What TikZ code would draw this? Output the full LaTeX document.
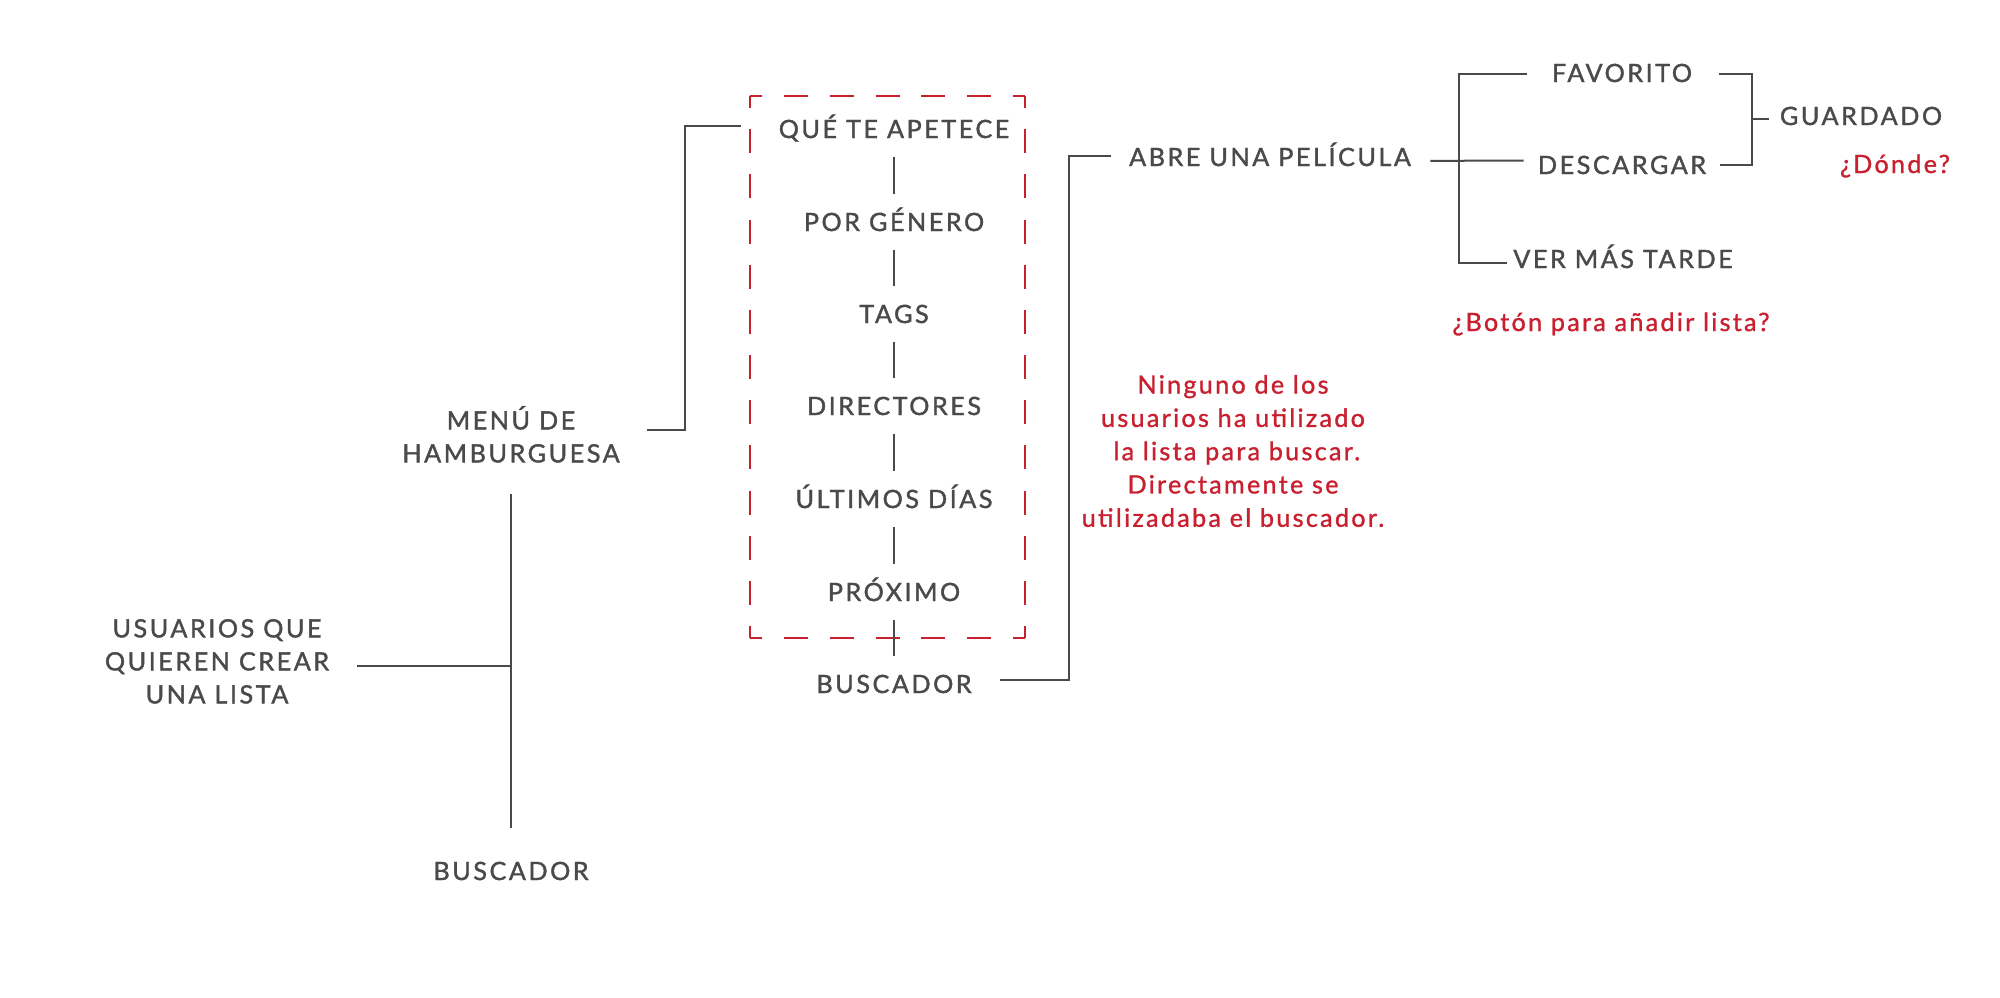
\documentclass[tikz,border=0pt]{standalone}
\usepackage{fontspec}
\setmainfont{Lato}
\usetikzlibrary{calc}
\definecolor{txtgrey}{HTML}{4A4A4A}
\definecolor{notered}{HTML}{C8202F}
\newfontfamily\capsfont{Lato}[LetterSpace=10,FakeBold=1.5]
\newfontfamily\notefont{Lato}[LetterSpace=9,FakeBold=1.2]
\begin{document}
\begin{tikzpicture}[x=0.5pt,y=-0.5pt,
  lbl/.style={text=txtgrey, font=\capsfont\fontsize{12.6}{16.5}\selectfont, inner sep=0pt, align=center},
  note/.style={text=notered, font=\notefont\fontsize{12.6}{16.65}\selectfont, inner sep=0pt, align=center},
  conn/.style={draw=txtgrey, line width=1pt},
  redside/.style={draw=notered, line width=1pt}]
\useasboundingbox (0,0) rectangle (2000,997);

% left part
\node[lbl, anchor=south] (usr) at (217,704) {USUARIOS QUE\\QUIEREN CREAR\\UNA LISTA};
\node[lbl, anchor=south] (menu) at (511,463) {MENÚ DE\\HAMBURGUESA};
\node[lbl, anchor=base] (bus1) at (511,880) {BUSCADOR};

% menu items
\node[lbl, anchor=base] (q1) at (894,138) {QUÉ TE APETECE};
\node[lbl, anchor=base] (q2) at (894,231) {POR GÉNERO};
\node[lbl, anchor=base] (q3) at (894,323) {TAGS};
\node[lbl, anchor=base] (q4) at (894,415) {DIRECTORES};
\node[lbl, anchor=base] (q5) at (894,508) {ÚLTIMOS DÍAS};
\node[lbl, anchor=base] (q6) at (894,601) {PRÓXIMO};
\node[lbl, anchor=base] (bus2) at (894,693) {BUSCADOR};

% right part
\node[lbl, anchor=base] (abre) at (1270,166) {ABRE UNA PELÍCULA};
\node[lbl, anchor=base] (fav) at (1622,82) {FAVORITO};
\node[lbl, anchor=base] (desc) at (1622,174) {DESCARGAR};
\node[lbl, anchor=base] (ver) at (1623,268) {VER MÁS TARDE};
\node[lbl, anchor=base] (guard) at (1861,125) {GUARDADO};

% notes
\node[note, anchor=base] (donde) at (1895,173) {¿Dónde?};
\node[note, anchor=base] (boton) at (1611,331) {¿Botón para añadir lista?};
\node[note] (nt) at (1233,451) {Ninguno de los\\usuarios ha utilizado\\\hspace*{0.3em}la lista para buscar.\\Directamente se\\utilizadaba el buscador.};

% dashed group box (each side with dashes centred on the corners)
\coordinate (b1) at (750,96);
\coordinate (b2) at (1025,96);
\coordinate (b3) at (1025,638);
\coordinate (b4) at (750,638);
\draw[redside, dash pattern=on 12pt off 10.917pt, dash phase=6pt] (b1) -- (b2);
\draw[redside, dash pattern=on 12pt off 10.917pt, dash phase=6pt] (b4) -- (b3);
\draw[redside, dash pattern=on 12pt off 10.583pt, dash phase=6pt] (b1) -- (b4);
\draw[redside, dash pattern=on 12pt off 10.583pt, dash phase=6pt] (b2) -- (b3);

% junction coordinates
\coordinate (j1) at (511,666);
\coordinate (k1) at (685,300);
\coordinate (k2) at (1069,400);
\coordinate (k3) at (1459,160);
\coordinate (k4) at (1752,119);

% connectors
\draw[conn, shorten <=14pt] (usr.east |- j1) -- (j1);
\draw[conn, shorten <=15.5pt, shorten >=16.5pt] (menu.south) -- (bus1.north);
\draw[conn, shorten <=13.5pt, shorten >=18.5pt] ([yshift=2pt]menu.east) -| (k1) |- ([yshift=1pt]q1.west);
\foreach \a/\b in {q1/q2,q2/q3,q3/q4,q4/q5,q5/q6,q6/bus2}
  \draw[conn] ([yshift=-9.5pt]\a.base) -- ([yshift=18.5pt]\b.base);
\draw[conn, shorten <=14pt, shorten >=9pt] ([yshift=1.75pt]bus2.east) -| (k2) |- ([yshift=-0.75pt]abre.west);
\draw[conn, shorten <=9.5pt, shorten >=7pt] ([yshift=-3.25pt]abre.east) -- ([yshift=2.25pt]desc.west);
\draw[conn, shorten <=12.5pt, shorten >=3pt] ([yshift=-0.75pt]fav.west) -| (k3) |- ([yshift=-3.25pt]ver.west);
\draw[conn, shorten <=13.5pt, shorten >=6.5pt] ([yshift=-0.75pt]fav.east) -| (k4) |- (desc.east);
\draw[conn, shorten >=5.5pt] (k4) -- (k4 -| guard.west);
\end{tikzpicture}
\end{document}
